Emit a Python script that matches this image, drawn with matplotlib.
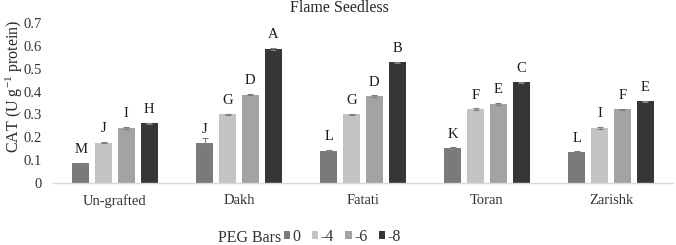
import matplotlib
matplotlib.use("Agg")
import matplotlib.pyplot as plt
import numpy as np
from matplotlib.patches import Patch

plt.rcParams['font.family'] = ['Liberation Serif', 'DejaVu Serif']
plt.rcParams['mathtext.fontset'] = 'custom'
plt.rcParams['mathtext.rm'] = 'Liberation Serif'
plt.rcParams['mathtext.it'] = 'Liberation Serif:italic'

categories = ["Un-grafted", "Dakh", "Fatati", "Toran", "Zarishk"]
series_names = ["0", "-4", "-6", "-8"]
v0 = [0.086, 0.173, 0.141, 0.153, 0.135]
v4 = [0.176, 0.301, 0.301, 0.322, 0.241]
v6 = [0.241, 0.387, 0.380, 0.346, 0.322]
v8 = [0.262, 0.588, 0.528, 0.441, 0.357]
e0 = [0.003, 0.025, 0.002, 0.003, 0.003]
e4 = [0.003, 0.003, 0.003, 0.004, 0.003]
e6 = [0.003, 0.003, 0.003, 0.003, 0.003]
e8 = [0.002, 0.004, 0.003, 0.003, 0.003]
l0 = ["M", "J", "L", "K", "L"]
l4 = ["J", "G", "G", "F", "I"]
l6 = ["I", "D", "D", "E", "F"]
l8 = ["H", "A", "B", "C", "E"]

values = [v0, v4, v6, v8]
errors = [e0, e4, e6, e8]
letters = [l0, l4, l6, l8]
colors = ["#7a7a7a", "#c3c3c3", "#a3a3a3", "#363636"]

fig = plt.figure(figsize=(6.76, 2.45), dpi=100)
ax = fig.add_axes([53/676, 1-183/245, 620/676, 160/245])

x = np.arange(len(categories))
slot = 0.183
width = 0.137
for i in range(4):
    xs = x + (i - 1.5) * slot
    ax.bar(xs, values[i], width, color=colors[i], label=series_names[i],
           yerr=errors[i], error_kw=dict(ecolor="#7f7f7f", elinewidth=0.8, capsize=2.5, capthick=0.8))
    for xi, v, lab in zip(xs, values[i], letters[i]):
        ax.annotate(lab, (xi, v), xytext=(0, 7.5), textcoords="offset points",
                    ha="center", va="baseline", fontsize=10.5, color="#1a1a1a")

ax.set_xlim(-0.5, 4.5)
ax.set_ylim(0, 0.7)
ax.set_yticks(np.arange(0, 0.71, 0.1))
ax.set_yticklabels(["0", "0.1", "0.2", "0.3", "0.4", "0.5", "0.6", "0.7"])
ax.set_xticks(x)
ax.set_xticklabels(categories)
ax.tick_params(axis="y", length=0, pad=8, labelsize=10.5, colors="#333333")
ax.tick_params(axis="x", length=0, pad=8, labelsize=10.5, colors="#333333")
for s in ["top", "right", "left"]:
    ax.spines[s].set_visible(False)
ax.spines["bottom"].set_color("#d9d9d9")
ax.spines["bottom"].set_linewidth(1.0)

fig.text(14/676, 1-86/245, r"CAT (U g$^{-1}$ protein)", rotation=90, ha="center", va="center",
         fontsize=11.5, color="#262626")
fig.text(339/676, 1-8/245, "Flame Seedless", ha="center", va="center", fontsize=11.5, color="#262626")

fig.text(281/676, 1-238/245, "PEG Bars", ha="right", va="center", fontsize=11.5, color="#333333")
handles = [Patch(facecolor=c) for c in colors]
leg = fig.legend(handles, series_names, loc="center left", bbox_to_anchor=(284/676, 1-237/245),
                 ncol=4, frameon=False, handlelength=0.4, handleheight=0.4, handletextpad=0.15,
                 columnspacing=0.7, borderpad=0, borderaxespad=0, fontsize=11.5)
for t in leg.get_texts():
    t.set_color("#333333")

fig.savefig("out.png", dpi=100)
